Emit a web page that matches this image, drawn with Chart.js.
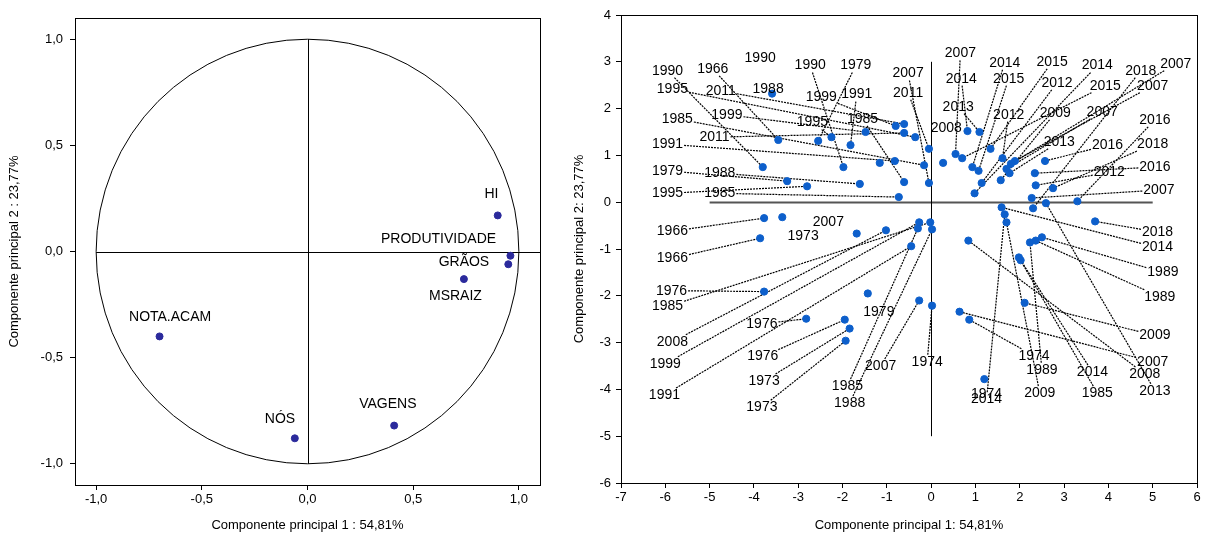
<!DOCTYPE html>
<html>
<head>
<meta charset="utf-8">
<script src="https://cdn.jsdelivr.net/npm/chart.js@4.4.1/dist/chart.umd.min.js"></script>
<style>
body{margin:0;background:#fff;width:1206px;height:538px;overflow:hidden;position:relative}
#left{position:absolute;left:0;top:0}
#right{position:absolute;left:560px;top:0}
</style>
</head>
<body>
<canvas id="left" width="560" height="538"></canvas>
<canvas id="right" width="646" height="538"></canvas>
<script>
// circle of correlations: variables
const varNames = ['HI', 'PRODUTIVIDADE', 'GRÃOS', 'MSRAIZ', 'NOTA.ACAM', 'NÓS', 'VAGENS'];
const varPC1 = [0.90, 0.96, 0.95, 0.74, -0.70, -0.06, 0.41];
const varPC2 = [0.17, -0.02, -0.06, -0.13, -0.40, -0.88, -0.82];
const varLabelX = [0.87, 0.62, 0.74, 0.70, -0.65, -0.13, 0.38];
const varLabelY = [0.27, 0.06, -0.05, -0.21, -0.31, -0.79, -0.72];
const leftTicks = [-1, -0.5, 0, 0.5, 1];

// scores of the cases (years)
const years = [
  1990, 1966, 1988, 1995, 1979, 1990, 1991, 1999, 1999, 2011, 2011, 1995, 2011, 1990, 1991, 1985, 1979, 1988, 1995, 1985, 1985, 2007,
  2007, 2014, 2013, 2008, 2014, 2015, 2015, 2012, 2012, 2009, 2014, 2007, 2015, 2007, 2013, 2007, 2016, 2012, 2016, 2018, 2007, 2016, 2018,
  1966, 1973, 1966, 1976, 1976, 2007, 2008, 1999, 1985, 1985, 1988, 1991, 1979, 1976, 1973, 1973, 2007, 1974,
  2014, 2014, 2009, 2013, 2018, 1989, 1989, 1989, 2014, 1985, 2009, 2008, 2007, 1974, 1974
];
const scoreX = [
  -3.80, -3.45, -3.59, -2.25, -2.55, -1.98, -1.82, -1.48, -0.80, -0.61, -0.61, -0.36, -0.05, -1.16, -0.82, -0.16, -3.25, -1.61, -2.80, -0.73, -0.61, -0.05,
  0.55, 0.82, 1.09, 0.27, 0.93, 1.07, 1.34, 1.14, 1.61, 1.57, 0.98, 1.89, 0.70, 1.80, 1.77, 1.70, 2.34, 2.36, 2.57, 2.75, 2.27, 3.30, 2.30,
  -3.77, -3.36, -3.86, -3.77, -2.82, -1.68, -1.02, -0.27, -0.02, -0.30, 0.02, -0.45, -1.43, -1.95, -1.84, -1.93, -0.27, 0.02,
  1.59, 1.66, 1.70, 2.59, 3.70, 2.23, 2.36, 2.50, 2.02, 1.98, 2.11, 0.84, 0.64, 0.86, 1.20
];
const scoreY = [
  0.75, 1.33, 2.32, 1.39, 1.31, 0.75, 1.22, 1.50, 1.63, 1.67, 1.48, 1.39, 1.14, 0.84, 0.88, 0.79, 0.45, 0.39, 0.34, 0.11, 0.43, 0.41,
  1.03, 1.52, 1.50, 0.84, 0.75, 0.67, 1.14, 0.41, 0.94, 0.47, 0.19, 0.88, 0.94, 0.82, 0.62, 0.71, 0.62, 0.36, 0.88, 0.30, 0.09, 0.02, -0.13,
  -0.34, -0.32, -0.77, -1.91, -2.49, -0.67, -0.60, -0.43, -0.43, -0.56, -0.58, -0.94, -1.95, -2.51, -2.70, -2.96, -2.10, -2.21,
  -0.11, -0.26, -0.43, -0.02, -0.41, -0.86, -0.82, -0.75, -1.24, -1.18, -2.15, -0.82, -2.34, -2.51, -3.78
];
// where each year label sits (axis units) and whether a leader line joins it to its point
const yearLabelX = [
  -5.95, -4.93, -3.68, -2.68, -1.70, -2.73, -1.68, -4.61, -2.48, -4.75, -4.89, -5.84, -0.52, -3.86, -5.95, -5.73, -5.95, -4.77, -5.95, -4.77, -1.55, -0.52,
  0.66, 0.68, 0.61, 0.34, 1.66, 1.75, 2.73, 2.84, 1.75, 2.80, 3.75, 5.00, 3.93, 5.52, 2.89, 3.86, 5.05, 4.02, 3.98, 5.00, 5.14, 5.05, 4.73,
  -5.84, -2.89, -5.84, -5.86, -3.82, -2.32, -5.84, -6.00, -5.95, -1.89, -1.84, -6.02, -1.18, -3.80, -3.77, -3.82, -1.14, -0.09,
  5.11, 1.25, 2.45, 5.05, 5.11, 2.50, 5.16, 5.23, 3.64, 3.75, 5.05, 4.82, 5.00, 2.32, 1.25
];
const yearLabelY = [
  2.81, 2.85, 2.42, 1.70, 2.92, 2.92, 2.30, 1.87, 2.25, 2.38, 1.39, 2.42, 2.34, 3.07, 1.24, 1.78, 0.67, 0.62, 0.19, 0.19, 1.78, 2.75,
  3.18, 2.64, 2.04, 1.59, 2.98, 2.64, 3.00, 2.55, 1.87, 1.91, 2.92, 2.49, 2.49, 2.96, 1.29, 1.93, 0.75, 0.64, 1.22, 1.24, 0.26, 1.76, 2.81,
  -0.62, -0.73, -1.20, -1.89, -2.60, -0.43, -2.98, -3.45, -2.23, -3.93, -4.29, -4.12, -2.34, -3.30, -3.82, -4.38, -3.50, -3.41,
  -0.97, -4.21, -4.08, -4.03, -0.64, -3.58, -2.02, -1.50, -3.63, -4.08, -2.85, -3.67, -3.41, -3.28, -4.10
];
const yearLeader = [
  1, 1, 0, 1, 1, 1, 1, 1, 1, 1, 1, 1, 1, 0, 1, 1, 1, 1, 1, 1, 1, 1,
  1, 1, 1, 0, 1, 1, 1, 1, 1, 1, 1, 1, 1, 1, 1, 1, 1, 1, 1, 1, 1, 1, 1,
  1, 0, 1, 1, 1, 0, 1, 1, 1, 1, 1, 1, 0, 1, 1, 1, 1, 1,
  1, 1, 1, 1, 1, 1, 1, 1, 1, 1, 1, 1, 1, 1, 0
];

const FONT = 'Liberation Sans, Arial, sans-serif';

function commaFmt(v){
    return v.toFixed(1).replace('.', ',');
}

// frame, cross lines, circle
const framePlugin = {
    id: 'frame',
    beforeDatasetsDraw(chart, args, opts){
        const {ctx, chartArea: a, scales: {x, y}} = chart;
        ctx.save();
        ctx.strokeStyle = '#000';
        ctx.lineWidth = 1;
        ctx.strokeRect(a.left + 0.5, a.top + 0.5, a.width, a.height);
        if (opts.circle){
            const cx = x.getPixelForValue(0), cy = y.getPixelForValue(0);
            ctx.beginPath();
            ctx.ellipse(cx, cy, x.getPixelForValue(1) - cx, cy - y.getPixelForValue(1), 0, 0, Math.PI * 2);
            ctx.stroke();
        }
        ctx.strokeStyle = opts.hColor;
        ctx.lineWidth = opts.hWidth;
        ctx.beginPath();
        ctx.moveTo(x.getPixelForValue(opts.h[0]), Math.round(y.getPixelForValue(0)) + 0.5);
        ctx.lineTo(x.getPixelForValue(opts.h[1]), Math.round(y.getPixelForValue(0)) + 0.5);
        ctx.stroke();
        ctx.strokeStyle = '#000';
        ctx.lineWidth = 1;
        ctx.beginPath();
        ctx.moveTo(Math.round(x.getPixelForValue(0)) + 0.5, y.getPixelForValue(opts.v[0]));
        ctx.lineTo(Math.round(x.getPixelForValue(0)) + 0.5, y.getPixelForValue(opts.v[1]));
        ctx.stroke();
        ctx.restore();
    }
};

// point labels with dotted leader lines
const labelPlugin = {
    id: 'pointLabels',
    beforeDatasetsDraw(chart, args, opts){
        if (!opts.lead) return;
        const {ctx, scales: {x, y}} = chart;
        ctx.save();
        ctx.font = opts.size + 'px ' + FONT;
        ctx.strokeStyle = '#000';
        ctx.lineWidth = 1.2;
        ctx.setLineDash([2, 1]);
        opts.names.forEach((name, i) => {
            if (!opts.lead[i]) return;
            const px = x.getPixelForValue(opts.px[i]), py = y.getPixelForValue(opts.py[i]);
            const lx = x.getPixelForValue(opts.lx[i]), ly = y.getPixelForValue(opts.ly[i]);
            const hw = ctx.measureText(String(name)).width / 2 + 1, hh = opts.size / 2;
            const dx = px - lx, dy = py - ly;
            const t = Math.min(dx ? hw / Math.abs(dx) : 1e9, dy ? hh / Math.abs(dy) : 1e9);
            ctx.beginPath();
            ctx.moveTo(lx + dx * t, ly + dy * t);
            ctx.lineTo(px, py);
            ctx.stroke();
        });
        ctx.restore();
    },
    afterDatasetsDraw(chart, args, opts){
        const {ctx, scales: {x, y}} = chart;
        ctx.save();
        ctx.font = opts.size + 'px ' + FONT;
        ctx.fillStyle = '#000';
        ctx.textAlign = 'center';
        ctx.textBaseline = 'middle';
        opts.names.forEach((name, i) => {
            ctx.fillText(String(name), x.getPixelForValue(opts.lx[i]), y.getPixelForValue(opts.ly[i]));
        });
        ctx.restore();
    }
};

function axis(min, max, titleText, size, titlePad, extra){
    return Object.assign({
        min: min, max: max,
        grid: {drawOnChartArea: false, drawTicks: true, tickLength: 5, color: '#000'},
        border: {color: '#000'},
        ticks: {color: '#000', font: {family: FONT, size: 13}},
        title: {display: true, text: titleText, color: '#000', font: {family: FONT, size: 13}, padding: titlePad},
        afterFit: s => { if (s.isHorizontal()) s.height = size; else s.width = size; }
    }, extra);
}

function initLeft(){
    let ctx = document.getElementById('left').getContext('2d');
    new Chart(ctx, {
        type: 'scatter',
        data: {
            datasets: [{
                data: varPC1.map((v, i) => ({x: v, y: varPC2[i]})),
                backgroundColor: '#2b2a9c',
                borderColor: '#2b2a9c',
                pointRadius: 3.5
            }]
        },
        options: {
            responsive: false, animation: false, devicePixelRatio: 1,
            layout: {padding: {top: 18, right: 20, left: 0, bottom: 0}},
            plugins: {
                legend: {display: false}, tooltip: {enabled: false},
                frame: {circle: true, h: [-1, 1.1], v: [-1, 1], hColor: '#000', hWidth: 1},
                pointLabels: {names: varNames, px: varPC1, py: varPC2, lx: varLabelX, ly: varLabelY, size: 14}
            },
            scales: {
                x: axis(-1.1, 1.1, 'Componente principal 1 : 54,81%', 53, {top: 4, bottom: 5}, {
                    afterBuildTicks: s => { s.ticks = leftTicks.map(v => ({value: v})); },
                    ticks: {color: '#000', font: {family: FONT, size: 13}, padding: 2, callback: v => commaFmt(v)}
                }),
                y: axis(-1.1, 1.1, 'Componente principal 2 : 23,77%', 75, {top: 7, bottom: 4}, {
                    afterBuildTicks: s => { s.ticks = leftTicks.map(v => ({value: v})); },
                    ticks: {color: '#000', font: {family: FONT, size: 13}, padding: 7, callback: v => commaFmt(v)}
                })
            }
        },
        plugins: [framePlugin, labelPlugin]
    });
}

function initRight(){
    let ctx = document.getElementById('right').getContext('2d');
    new Chart(ctx, {
        type: 'scatter',
        data: {
            datasets: [{
                data: scoreX.map((v, i) => ({x: v, y: scoreY[i]})),
                backgroundColor: '#0d5fcb',
                borderColor: '#0d5fcb',
                pointRadius: 3.6
            }]
        },
        options: {
            responsive: false, animation: false, devicePixelRatio: 1,
            layout: {padding: {top: 15, right: 9, left: 0, bottom: 0}},
            plugins: {
                legend: {display: false}, tooltip: {enabled: false},
                frame: {circle: false, h: [-5, 5], v: [-5, 3], hColor: '#555', hWidth: 2},
                pointLabels: {names: years, px: scoreX, py: scoreY, lx: yearLabelX, ly: yearLabelY, lead: yearLeader, size: 14}
            },
            scales: {
                x: axis(-7, 6, 'Componente principal 1: 54,81%', 55, {top: 4, bottom: 5}, {
                    ticks: {color: '#000', font: {family: FONT, size: 13}, padding: 2, stepSize: 1}
                }),
                y: axis(-6, 4, 'Componente principal 2: 23,77%', 61, {top: 12, bottom: 4}, {
                    ticks: {color: '#000', font: {family: FONT, size: 13}, padding: 5, stepSize: 1}
                })
            }
        },
        plugins: [framePlugin, labelPlugin]
    });
}

initLeft();
initRight();
</script>
</body>
</html>
